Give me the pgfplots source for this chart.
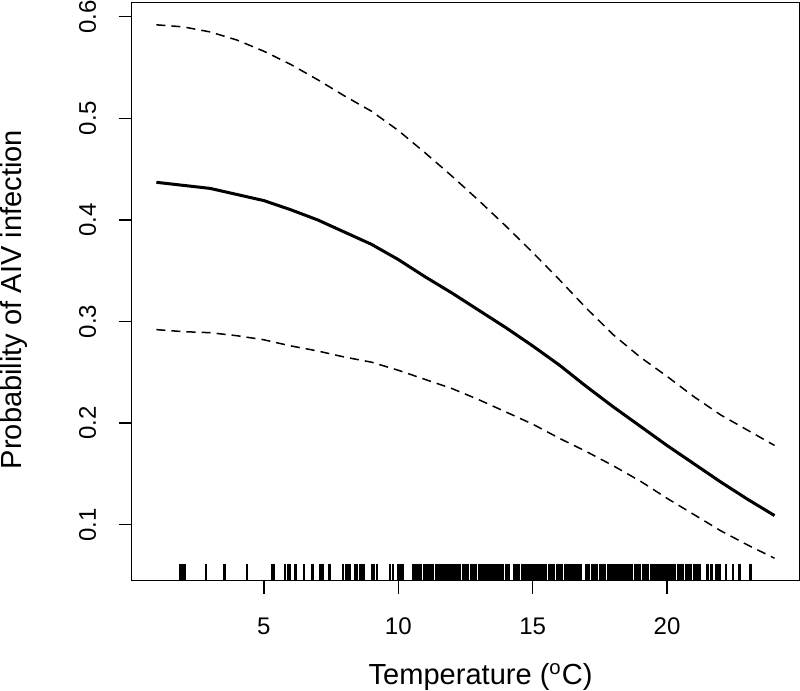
\documentclass[border=0pt]{standalone}
\usepackage{fontspec}
\setmainfont{Liberation Sans}
\usepackage{pgfplots}
\pgfplotsset{compat=1.18}
\begin{document}
\begin{tikzpicture}
\begin{axis}[
  scale only axis, width=332bp, height=287.5bp,
  xmin=0.08, xmax=24.92, ymin=0.045, ymax=0.614,
  axis line style={line width=0.75bp},
  xtick={5,10,15,20}, ytick={0.1,0.2,0.3,0.4,0.5,0.6},
  yticklabels={0.1,0.2,0.3,0.4,0.5,0.6},
  tick align=outside, tick pos=left,
  major tick length=6.5bp,
  tick style={line width=0.75bp, black},
  /pgf/number format/assume math mode=true,
  ticklabel style={font=\fontsize{12}{14}\selectfont, inner sep=0pt},
  xticklabel style={anchor=north, yshift=-12bp},
  yticklabel style={rotate=90, anchor=south, yshift=11bp},
  xlabel={Temperature (\textsuperscript{o}C)},
  ylabel={Probability of AIV infection},
  label style={font=\fontsize{14.5}{17}\selectfont, inner sep=0pt},
  xlabel style={at={(axis description cs:0.5226,-0.1803)}, anchor=base},
  ylabel style={at={(axis description cs:-0.1657,0.4861)}, anchor=base, rotate=0},
  clip=false,
]
\addplot[black, line width=1.5bp] coordinates {
(1,0.437)(2,0.434)(3,0.431)(4,0.425)(5,0.419)(6,0.410)(7,0.400)(8,0.388)
(9,0.376)(10,0.361)(11,0.344)(12,0.328)(13,0.311)(14,0.294)(15,0.276)
(16,0.257)(17,0.236)(18,0.216)(19,0.197)(20,0.178)(21,0.160)(22,0.142)
(23,0.125)(24,0.109)};
\addplot[black, line width=0.75bp, dash pattern=on 4.5bp off 3bp] coordinates {
(1,0.592)(2,0.590)(3,0.585)(4,0.577)(5,0.566)(6,0.553)(7,0.538)(8,0.522)
(9,0.507)(10,0.488)(11,0.466)(12,0.443)(13,0.419)(14,0.394)(15,0.368)
(16,0.341)(17,0.313)(18,0.287)(19,0.265)(20,0.246)(21,0.226)(22,0.208)
(23,0.193)(24,0.178)};
\addplot[black, line width=0.75bp, dash pattern=on 4.5bp off 3bp] coordinates {
(1,0.292)(2,0.290)(3,0.289)(4,0.286)(5,0.282)(6,0.276)(7,0.271)(8,0.265)
(9,0.260)(10,0.252)(11,0.243)(12,0.234)(13,0.223)(14,0.211)(15,0.199)
(16,0.185)(17,0.172)(18,0.158)(19,0.143)(20,0.126)(21,0.110)(22,0.094)
(23,0.080)(24,0.067)};
\addplot[only marks, mark=|, mark size=4.25bp, mark options={line width=1.25bp, black}] table[y expr=0.0534] {
x
1.9
1.95
2.0
2.05
2.85
3.53
4.38
5.3
5.35
5.78
5.9
5.95
6.18
6.49
6.8
7.1
7.15
7.2
7.45
7.95
8.05
8.15
8.2
8.4
8.45
8.6
8.7
9.05
9.1
9.2
9.7
9.8
10.0
10.1
10.15
10.55
10.65
10.75
10.85
10.95
11.05
11.1
11.2
11.3
11.4
11.5
11.6
11.7
11.8
11.9
12.0
12.1
12.2
12.3
12.4
12.5
12.6
12.7
12.8
12.9
13.0
13.1
13.2
13.3
13.4
13.5
13.6
13.7
13.8
13.9
14.0
14.1
14.3
14.4
14.5
14.6
14.7
14.8
14.9
15.0
15.1
15.2
15.3
15.4
15.5
15.6
15.7
15.8
15.9
16.0
16.1
16.2
16.3
16.4
16.5
16.6
16.7
16.8
17.0
17.1
17.2
17.3
17.4
17.5
17.6
17.7
17.8
17.9
18.0
18.1
18.2
18.3
18.4
18.5
18.6
18.7
18.8
18.9
19.0
19.1
19.2
19.3
19.4
19.5
19.6
19.7
19.8
19.9
20.0
20.1
20.2
20.3
20.4
20.5
20.6
20.7
20.8
20.9
21.0
21.1
21.2
21.5
21.65
21.85
21.95
22.2
22.45
22.7
23.1
};
\end{axis}
\end{tikzpicture}
\end{document}
